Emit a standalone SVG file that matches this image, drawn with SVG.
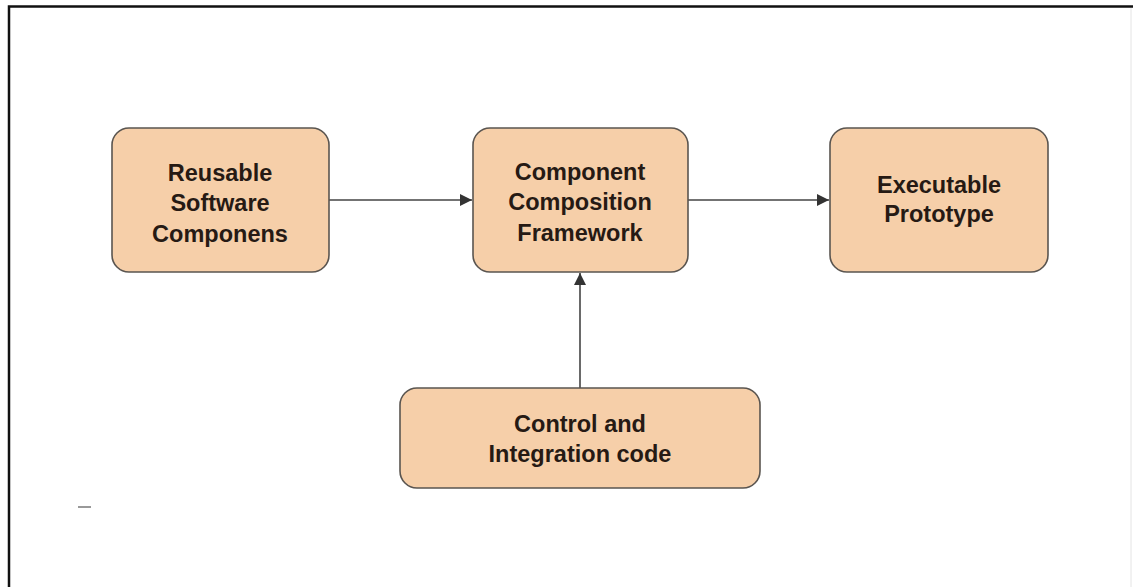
<svg xmlns="http://www.w3.org/2000/svg" width="1133" height="587" viewBox="0 0 1133 587">
<style>
.box{fill:#f6cfa9;stroke:#5a5550;stroke-width:1.6}
.t{font-family:"Liberation Sans",Arial,sans-serif;font-weight:bold;font-size:23.5px;fill:#261a14;text-anchor:middle}
.c{stroke:#444;stroke-width:1.6;fill:none}
</style>
<defs>
<marker id="ah" viewBox="0 0 12 12" refX="12" refY="6" markerWidth="12" markerHeight="12" markerUnits="userSpaceOnUse" orient="auto">
<path d="M0,0 L12,6 L0,12 Z" fill="#333"/>
</marker>
</defs>
<rect x="0" y="0" width="1133" height="587" fill="#fff"/>
<path d="M9,587 V6.5 H1133" fill="none" stroke="#111" stroke-width="2.5"/>
<line x1="1131" y1="8" x2="1131" y2="587" stroke="#e4e4e4" stroke-width="1"/>
<line x1="78" y1="507" x2="91" y2="507" stroke="#777" stroke-width="1.5"/>
<g id="connectors">
<line class="c" x1="329" y1="200" x2="472" y2="200" marker-end="url(#ah)"/>
<line class="c" x1="688" y1="200" x2="829" y2="200" marker-end="url(#ah)"/>
<line class="c" x1="580" y1="388" x2="580" y2="273" marker-end="url(#ah)"/>
</g>
<g id="reusable">
<rect class="box" x="112" y="128" width="217" height="144" rx="17"/>
<text class="t" x="220" y="181">Reusable</text>
<text class="t" x="220" y="211">Software</text>
<text class="t" x="220" y="242">Componens</text>
</g>
<g id="framework">
<rect class="box" x="473" y="128" width="215" height="144" rx="17"/>
<text class="t" x="580" y="180">Component</text>
<text class="t" x="580" y="210">Composition</text>
<text class="t" x="580" y="241">Framework</text>
</g>
<g id="prototype">
<rect class="box" x="830" y="128" width="218" height="144" rx="17"/>
<text class="t" x="939" y="193">Executable</text>
<text class="t" x="939" y="222">Prototype</text>
</g>
<g id="control">
<rect class="box" x="400" y="388" width="360" height="100" rx="17"/>
<text class="t" x="580" y="432">Control and</text>
<text class="t" x="580" y="462">Integration code</text>
</g>
</svg>
